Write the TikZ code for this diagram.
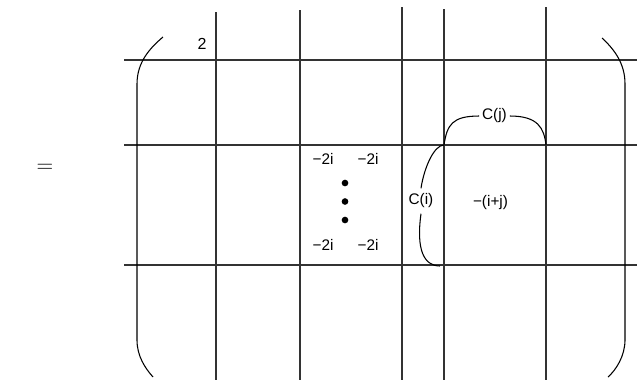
\documentclass[tikz,border=0pt]{standalone}
\usepackage{fontspec}
\setmainfont{Liberation Sans}
\usetikzlibrary{positioning}
\tikzset{
	gridline/.style={
			draw=black!80,
			line width=1.1pt
		},
	bracketline/.style={
			draw=black,
			line width=0.8pt
		},
	entrynode/.style={
			shape=rectangle,
			inner sep=1pt,
			font=\fontsize{11.5}{13}\selectfont
		},
	bracenode/.style={
			entrynode,
			inner xsep=2pt,
			inner ysep=4pt
		},
	dotnode/.style={
			circle,
			fill=black,
			minimum size=5pt,
			inner sep=0pt
		}
}

\begin{document}
\begin{tikzpicture}[x=0.75pt, y=-0.75pt]

  \useasboundingbox (0,0) rectangle (642,380);

  \node (eq) at (45,168) {\fontsize{19}{22}\selectfont$=$};

  \draw[gridline] (124,60) -- (637,60);
  \draw[gridline] (124,145) -- (637,145);
  \draw[gridline] (124,265) -- (637,265);

  \draw[gridline] (216,12) -- (216,380);
  \draw[gridline] (300,10) -- (300,380);
  \draw[gridline] (402,7) -- (402,380);
  \draw[gridline] (444,9) -- (444,380);
  \draw[gridline] (546,7) -- (546,380);

  \draw[bracketline] (163,37) .. controls (150,48) and (137,62) .. (137,84) -- (137,340)
    .. controls (137,356) and (145,368) .. (153,377);
  \draw[bracketline] (602,38) .. controls (615,50) and (625,64) .. (625,84) -- (625,340)
    .. controls (625,356) and (616,370) .. (608,377);

  \node (two) at (202,44) {\fontsize{12}{14}\selectfont 2};

  \node[entrynode] (a1) at (323,159) {−2i};
  \node[entrynode] (a2) at (368,159) {−2i};
  \node[entrynode] (a3) at (323,245) {−2i};
  \node[entrynode] (a4) at (368,245) {−2i};

  \node[dotnode] (d1) at (345,183) {};
  \node[dotnode] (d2) at (345,201.5) {};
  \node[dotnode] (d3) at (345,220) {};

  \node[entrynode] (ij) at (490.5,203) {−(i+j)};

  \coordinate (cna) at (444,145);
  \coordinate (cnb) at (546,145);
  \coordinate (cnc) at (440,266);

  \node[bracenode] (ci) at (421,201) {C(i)};
  \draw[bracketline] (cna) .. controls (434,145) and (424,168) .. (ci.north);
  \draw[bracketline] (ci.south) .. controls (416,250) and (424,266) .. (cnc);

  \node[bracenode] (cj) at (494.5,116) {C(j)};
  \draw[bracketline] (cna) .. controls (447,125) and (452,116) .. (cj.west);
  \draw[bracketline] (cj.east) .. controls (538,116) and (544,128) .. (cnb);

\end{tikzpicture}
\end{document}
